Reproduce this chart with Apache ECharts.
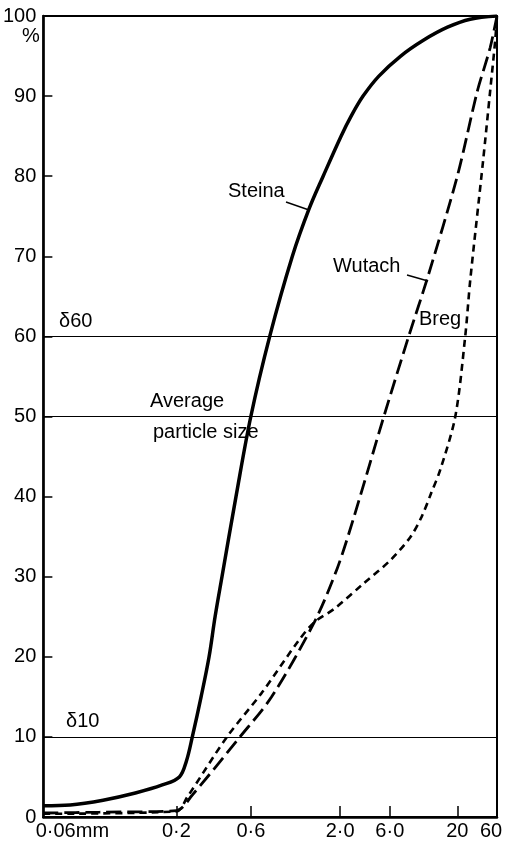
<!DOCTYPE html>
<html>
<head>
<meta charset="utf-8">
<script src="https://cdn.jsdelivr.net/npm/echarts@6/dist/echarts.min.js"></script>
<style>
	html, body { margin: 0; padding: 0; background: #fff; }
	#chart { width: 507px; height: 843px; }
</style>
</head>
<body>
<div id="chart"></div>
<script>
	// x轴刻度: 粒径(mm), 标签, 轴上位置(原图刻度不等距)
	var tickSizes = [0.06, 0.2, 0.6, 2, 6, 20, 60];
	var tickLabels = ['0·06mm', '0·2', '0·6', '2·0', '6·0', '20', '60'];
	var tickPos = [0, 134, 209, 299, 349, 417, 457];

	// 三条累积曲线 (粒径mm, 百分比)
	var steinaSize = [0.06, 0.0765, 0.103, 0.138, 0.176, 0.209, 0.232, 0.253, 0.288, 0.324, 0.354, 0.392, 0.482, 0.6, 0.774, 1.05, 1.32, 1.59, 2.04, 2.55, 3.32, 4.71, 7.29, 11.0, 16.8, 28.6, 60];
	var steinaPct = [1.4, 1.5, 2.1, 3.0, 4.0, 5.0, 7.0, 10, 15, 20, 25, 30, 40, 50, 60, 70, 76, 80, 85, 87.5, 90, 92.5, 95, 97, 98.6, 99.6, 100];

	var wutachSize = [0.06, 0.1, 0.2, 0.253, 0.511, 0.794, 1.41, 1.92, 2.72, 5.26, 8.4, 11.8, 20, 34.6, 49.5, 60];
	var wutachPct = [0.5, 0.6, 0.8, 2.75, 10, 15, 24.3, 31, 37.5, 50, 60, 67.4, 80, 90.5, 96, 100];

	var bregSize = [0.06, 0.2, 0.235, 0.422, 0.695, 1.14, 1.41, 1.85, 3.39, 6.1, 8.7, 10.6, 12.6, 14.8, 19.3, 24.9, 28.6, 40.9, 49.5, 56.9, 60];
	var bregPct = [0.4, 0.7, 2.5, 10, 15.5, 22, 24.3, 26, 29.2, 32.1, 35, 37.5, 40.5, 43.4, 50, 60, 67, 82, 90.5, 96.8, 100];

	// 参考线 δ10 / 平均粒径 / δ60
	var refLines = [10, 50, 60];

	var font = "'Liberation Sans', Arial, sans-serif";

	// 粒径 -> 轴位置 (相邻刻度之间按对数插值)
	function toAxis(mm) {
		var n = tickSizes.length;
		for (var i = 0; i < n - 1; i++) {
			if (mm <= tickSizes[i + 1] || i == n - 2) {
				var t = Math.log(mm / tickSizes[i]) / Math.log(tickSizes[i + 1] / tickSizes[i]);
				return tickPos[i] + t * (tickPos[i + 1] - tickPos[i]);
			}
		}
	}

	function pairs(sizes, pcts) {
		var out = [];
		for (var i = 0; i < sizes.length; i++) {
			out.push([toAxis(sizes[i]), pcts[i]]);
		}
		return out;
	}

	var myChart = echarts.init(document.getElementById('chart'));

	var refData = [];
	for (var i = 0; i < refLines.length; i++) {
		refData.push({ yAxis: refLines[i] });
	}

	function txt(x, y, s, align) {
		return {
			type: 'text', left: x, top: y,
			style: { text: s, font: '20px ' + font, fill: '#000', textAlign: align || 'left' }
		};
	}
	function seg(x1, y1, x2, y2) {
		return {
			type: 'line',
			shape: { x1: x1, y1: y1, x2: x2, y2: y2 },
			style: { stroke: '#000', lineWidth: 1.5 }
		};
	}

	myChart.setOption({
		animation: false,
		backgroundColor: '#fff',
		grid: {
			left: 40, right: 10, top: 16, bottom: 26,
			show: true, borderColor: '#000', borderWidth: 2
		},
		xAxis: {
			type: 'value',
			min: 0,
			max: tickPos[tickPos.length - 1],
			splitLine: { show: false },
			axisLine: { lineStyle: { color: '#000', width: 2.5 } },
			axisTick: {
				customValues: tickPos.slice(1, tickPos.length - 1),
				inside: true, length: 11,
				lineStyle: { color: '#000', width: 1.5 }
			},
			axisLabel: {
				customValues: tickPos,
				margin: 4,
				color: '#000',
				fontSize: 20,
				fontFamily: font,
				formatter: function (v) {
					var i = tickPos.indexOf(v);
					if (i == 0) return '{a|' + tickLabels[i] + '}';
					if (i == tickPos.length - 1) return '{b|' + tickLabels[i] + '}';
					return tickLabels[i];
				},
				rich: {
					a: { fontSize: 20, fontFamily: font, color: '#000', padding: [0, 0, 0, 58] },
					b: { fontSize: 20, fontFamily: font, color: '#000', padding: [0, 12, 0, 0] }
				}
			}
		},
		yAxis: {
			type: 'value',
			min: 0, max: 100, interval: 10,
			splitLine: { show: false },
			axisLine: { show: true, lineStyle: { color: '#000', width: 2.5 } },
			axisTick: { inside: true, length: 9, lineStyle: { color: '#000', width: 1.5 } },
			axisLabel: { color: '#000', fontSize: 20, fontFamily: font, margin: 7 }
		},
		series: [
			{
				name: 'Steina',
				type: 'line',
				smooth: 0.35,
				symbol: 'none',
				data: pairs(steinaSize, steinaPct),
				lineStyle: { color: '#000', width: 3.5 },
				markLine: {
					silent: true,
					symbol: 'none',
					label: { show: false },
					lineStyle: { color: '#000', width: 1, type: 'solid' },
					data: refData
				}
			},
			{
				name: 'Wutach',
				type: 'line',
				smooth: 0.3,
				symbol: 'none',
				data: pairs(wutachSize, wutachPct),
				lineStyle: { color: '#000', width: 2.8, type: [15, 6] }
			},
			{
				name: 'Breg',
				type: 'line',
				smooth: 0.3,
				symbol: 'none',
				data: pairs(bregSize, bregPct),
				lineStyle: { color: '#000', width: 2.6, type: [7, 5] }
			}
		],
		graphic: [
			txt(22, 26, '%'),
			txt(59, 311, 'δ60'),
			txt(150, 391, 'Average', 'center'),
			txt(153, 422, 'particle size', 'center'),
			txt(66, 711, 'δ10'),
			txt(228, 181, 'Steina'),
			seg(286, 202, 309, 210),
			txt(333, 256, 'Wutach'),
			seg(407, 275, 428, 281),
			txt(419, 309, 'Breg')
		]
	});
</script>
</body>
</html>
